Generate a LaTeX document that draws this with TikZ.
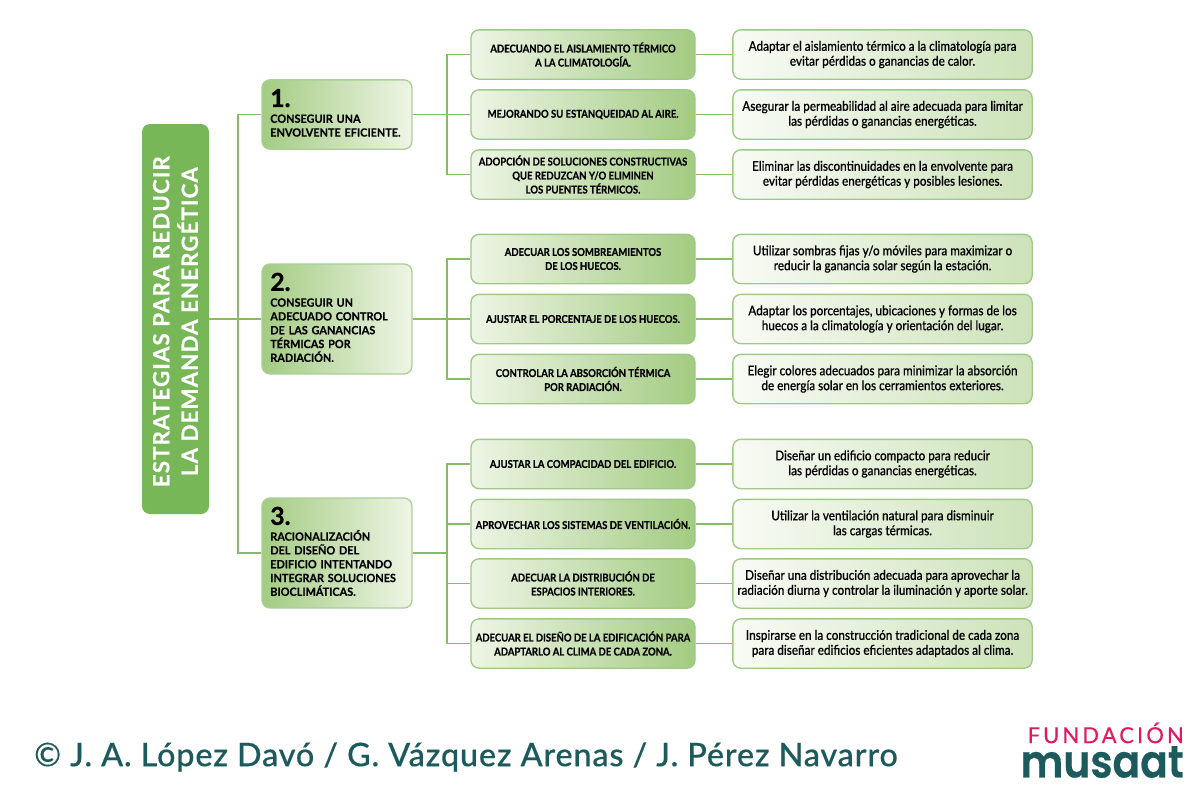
\documentclass[tikz,border=0pt]{standalone}
\usepackage{fontspec}
\setmainfont{Lato}
\newfontfamily\narrowbold[FakeStretch=0.88,FakeBold=0.5]{Lato Bold}
\newfontfamily\groupfont[FakeStretch=0.96,FakeBold=0.3]{Lato Bold}
\newfontfamily\narrowreg[FakeStretch=0.87,FakeBold=0.25]{Lato Medium}
\newfontfamily\rootfont[LetterSpace=4.5,FakeBold=0.5]{Lato Bold}
\newfontfamily\creditfont[LetterSpace=2.5,FakeBold=0.3]{Lato Medium}
\newfontfamily\logofont[LetterSpace=14,FakeBold=0.4]{Lato}
\newfontfamily\logobig[FakeStretch=0.9,FakeBold=0.5]{Poppins SemiBold}
\newfontfamily\numfont[FakeBold=1]{Lato Bold}
\usepackage{tikz}
\definecolor{GreenLine}{HTML}{86BC68}
\definecolor{GreenRoot}{HTML}{77B757}
\definecolor{GreenDark}{HTML}{A3CB82}
\definecolor{GreenPale}{HTML}{EEF5E6}
\definecolor{TealText}{HTML}{1D5A5C}
\definecolor{PinkText}{HTML}{E2195F}
\tikzset{
  link/.style={draw=GreenLine, line width=1.4pt},
  rootbox/.style={fill=GreenRoot, rounded corners=6pt, minimum width=50.25pt, minimum height=292.5pt, inner sep=0pt},
  groupbox/.style={draw=GreenLine!70, line width=1pt, rounded corners=6pt, left color=GreenDark, right color=GreenPale, minimum width=112.5pt, text width=100pt, inner sep=0pt, align=left, font=\groupfont\fontsize{8.5}{10.35}\selectfont, execute at end node={\rule[-2.5pt]{0pt}{2.5pt}}},
  actionbox/.style={draw=GreenLine!80, line width=1pt, rounded corners=6pt, left color=GreenPale, right color=GreenDark, minimum width=168pt, minimum height=37pt, inner sep=0pt, align=center, font=\narrowbold\fontsize{8.1}{10.5}\selectfont},
  goalbox/.style={draw=GreenLine!80, line width=1pt, rounded corners=6pt, left color=white!60!GreenPale, right color=GreenDark!45!GreenPale, minimum width=224.5pt, minimum height=37pt, inner sep=0pt, align=center, font=\narrowreg\fontsize{10.1}{11.2}\selectfont, execute at begin node={\rule{0pt}{10pt}}}
}
\newcommand{\bignum}[1]{{\numfont\fontsize{18.5}{18}\selectfont #1}\\[1.5pt]}
\begin{document}
\begin{tikzpicture}[x=0.75pt, y=-0.75pt]
  \useasboundingbox (0,0) rectangle (1200,800);

  \node (ROOT) [rootbox, align=center, text=white] at (175.5,319)
    {\rotatebox{90}{\hspace*{-4pt}\parbox{292pt}{\centering\rootfont\fontsize{16.8}{21.5}\selectfont ESTRATEGIAS PARA REDUCIR\\LA DEMANDA ENERGÉTICA}}};

  % groups
  \node (one) [groupbox, minimum height=52pt] at (337,114.5)
    {\bignum{1.}CONSEGUIR UNA\\ENVOLVENTE EFICIENTE.};
  \node (two) [groupbox, minimum height=82.5pt] at (337,319)
    {\bignum{2.}CONSEGUIR UN\\ADECUADO CONTROL\\DE LAS GANANCIAS\\TÉRMICAS POR\\RADIACIÓN.};
  \node (three) [groupbox, minimum height=82.5pt] at (337,553)
    {\bignum{3.}RACIONALIZACIÓN\\DEL DISEÑO DEL\\EDIFICIO INTENTANDO\\INTEGRAR SOLUCIONES\\BIOCLIMÁTICAS.};

  % actions
  \node (act1) [actionbox] at (583,54.5) {ADECUANDO EL AISLAMIENTO TÉRMICO\\A LA CLIMATOLOGÍA.};
  \node (act2) [actionbox] at (583,114.5) {MEJORANDO SU ESTANQUEIDAD AL AIRE.};
  \node (act3) [actionbox] at (583,174.5) {ADOPCIÓN DE SOLUCIONES CONSTRUCTIVAS\\QUE REDUZCAN Y/O ELIMINEN\\LOS PUENTES TÉRMICOS.};
  \node (act4) [actionbox] at (583,259) {ADECUAR LOS SOMBREAMIENTOS\\DE LOS HUECOS.};
  \node (act5) [actionbox] at (583,319) {AJUSTAR EL PORCENTAJE DE LOS HUECOS.};
  \node (act6) [actionbox] at (583,379) {CONTROLAR LA ABSORCIÓN TÉRMICA\\POR RADIACIÓN.};
  \node (act7) [actionbox] at (583,464) {AJUSTAR LA COMPACIDAD DEL EDIFICIO.};
  \node (act8) [actionbox] at (583,524) {APROVECHAR LOS SISTEMAS DE VENTILACIÓN.};
  \node (act9) [actionbox] at (583,583.5) {ADECUAR LA DISTRIBUCIÓN DE\\ESPACIOS INTERIORES.};
  \node (act10) [actionbox] at (583,643.5) {ADECUAR EL DISEÑO DE LA EDIFICACIÓN PARA\\ADAPTARLO AL CLIMA DE CADA ZONA.};

  % goals
  \node (goal1) [goalbox] at (882.5,54.5) {Adaptar el aislamiento térmico a la climatología para\\evitar pérdidas o ganancias de calor.};
  \node (goal2) [goalbox] at (882.5,114.5) {Asegurar la permeabilidad al aire adecuada para limitar\\las pérdidas o ganancias energéticas.};
  \node (goal3) [goalbox] at (882.5,174.5) {Eliminar las discontinuidades en la envolvente para\\evitar pérdidas energéticas y posibles lesiones.};
  \node (goal4) [goalbox] at (882.5,259) {Utilizar sombras fijas y/o móviles para maximizar o\\reducir la ganancia solar según la estación.};
  \node (goal5) [goalbox] at (882.5,319) {Adaptar los porcentajes, ubicaciones y formas de los\\huecos a la climatología y orientación del lugar.};
  \node (goal6) [goalbox] at (882.5,379) {Elegir colores adecuados para minimizar la absorción\\de energía solar en los cerramientos exteriores.};
  \node (goal7) [goalbox] at (882.5,464) {Diseñar un edificio compacto para reducir\\las pérdidas o ganancias energéticas.};
  \node (goal8) [goalbox] at (882.5,524) {Utilizar la ventilación natural para disminuir\\las cargas térmicas.};
  \node (goal9) [goalbox] at (882.5,583.5) {Diseñar una distribución adecuada para aprovechar la\\radiación diurna y controlar la iluminación y aporte solar.};
  \node (goal10) [goalbox] at (882.5,643.5) {Inspirarse en la construcción tradicional de cada zona\\para diseñar edificios eficientes adaptados al clima.};

  % connectors
  \foreach \grp in {one,two,three}
    \draw[link] (ROOT.east) -- ++(29,0) |- (\grp.west);
  \foreach \act in {1,2,3}
    \draw[link] (one.east) -- ++(34,0) |- (act\act.west);
  \foreach \act in {4,5,6}
    \draw[link] (two.east) -- ++(34,0) |- (act\act.west);
  \foreach \act in {7,8,9,10}
    \draw[link] (three.east) -- ++(34,0) |- (act\act.west);
  \foreach \n in {1,...,10}
    \draw[link] (act\n.east) -- (goal\n.west);

  % footer
  \node (credit) [anchor=west, inner sep=0pt, text=TealText, font=\creditfont\fontsize{24.3}{26}\selectfont] at (34,757)
    {© J. A. López Davó / G. Vázquez Arenas / J. Pérez Navarro};
  \node (fundacion) [anchor=east, inner sep=0pt, text=PinkText, font=\logofont\fontsize{16.5}{17}\selectfont] at (1184,733) {FUNDACIÓN};
  \node (musaat) [anchor=east, inner sep=0pt, text=TealText, font=\logobig\fontsize{34}{34}\selectfont] at (1184,762) {musaat};
\end{tikzpicture}
\end{document}
